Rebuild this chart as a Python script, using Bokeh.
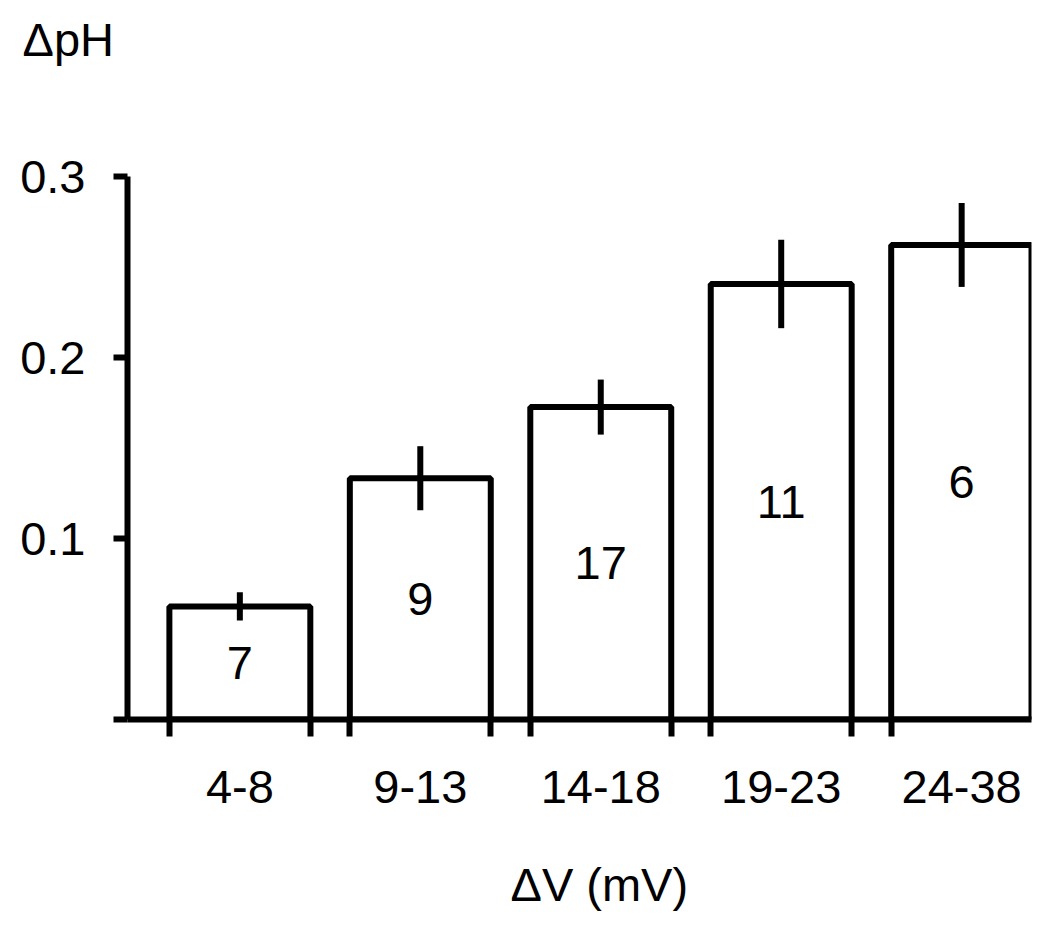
from bokeh.plotting import figure
from bokeh.models import Range1d, FixedTicker, Title, ColumnDataSource
from bokeh.core.properties import value
from bokeh.embed import file_html
from bokeh.resources import INLINE

# ---- data ----
categories = ["4-8", "9-13", "14-18", "19-23", "24-38"]
mean_dph = [0.0625, 0.1333, 0.1726, 0.2406, 0.2622]
sem_dph = [0.0078, 0.0177, 0.0152, 0.0244, 0.0232]
n_cells = [7, 9, 17, 11, 6]
y_ticks = [0, 0.1, 0.2, 0.3]

FONT = "Liberation Sans"
FS = "47px"
BAR_W = 0.781
LW = 6

xs = list(range(len(categories)))
edges = []
for x in xs:
    edges += [x - BAR_W / 2, x + BAR_W / 2]

src = ColumnDataSource(dict(
    x=xs,
    top=mean_dph,
    lo=[m - s for m, s in zip(mean_dph, sem_dph)],
    hi=[m + s for m, s in zip(mean_dph, sem_dph)],
    n=[str(v) for v in n_cells],
    ny=[m / 2 for m in mean_dph],
))

p = figure(width=1042, height=922,
           x_range=Range1d(-0.6226, 4.387), y_range=Range1d(0, 0.3),
           output_backend="svg", toolbar_location=None, title=None,
           min_border_left=127, min_border_right=11,
           min_border_top=0, min_border_bottom=0)
p.outline_line_color = None
p.grid.visible = False
p.background_fill_color = "white"
p.border_fill_color = "white"

p.vbar(x="x", top="top", bottom=0, width=BAR_W, fill_color="white",
       line_color="black", line_width=LW, source=src)
p.segment(x0="x", y0="lo", x1="x", y1="hi", line_color="black",
          line_width=LW, source=src)
p.text(x="x", y="ny", text="n", text_font=value(FONT),
       text_font_size=value(FS), text_align="center",
       text_baseline="middle", text_color="black", source=src)

xa = p.xaxis[0]
xa.ticker = FixedTicker(ticks=xs, minor_ticks=edges)
xa.major_label_overrides = {i: c for i, c in enumerate(categories)}
xa.major_tick_out = 17
xa.major_tick_in = 0
xa.major_tick_line_color = None
xa.minor_tick_out = 17
xa.minor_tick_in = 0
xa.minor_tick_line_width = LW
xa.minor_tick_line_color = "black"
xa.axis_line_width = LW
xa.axis_line_color = "black"
xa.major_label_standoff = 34
xa.major_label_text_font = FONT
xa.major_label_text_font_size = FS
xa.major_label_text_color = "black"

ya = p.yaxis[0]
ya.ticker = FixedTicker(ticks=y_ticks)
ya.major_label_overrides = {0: ""}
ya.major_tick_out = 14
ya.major_tick_in = 0
ya.major_tick_line_width = LW
ya.major_tick_line_color = "black"
ya.minor_tick_line_color = None
ya.axis_line_width = LW
ya.axis_line_color = "black"
ya.major_label_standoff = 28
ya.major_label_text_font = FONT
ya.major_label_text_font_size = FS
ya.major_label_text_color = "black"

# titles: spacer then label, stacked outward from the frame
p.add_layout(Title(text=" ", text_font_size="10px", standoff=88), "above")
p.add_layout(Title(text="ΔpH", text_font=FONT, text_font_size=FS,
                   text_font_style="normal", text_color="black",
                   align="left", offset=-105, standoff=20), "above")
p.add_layout(Title(text=" ", text_font_size="10px", standoff=25), "below")
p.add_layout(Title(text="ΔV (mV)", text_font=FONT, text_font_size=FS,
                   text_font_style="normal", text_color="black",
                   align="left", offset=383, standoff=24), "below")

open("out.html", "w").write(file_html(p, INLINE))
